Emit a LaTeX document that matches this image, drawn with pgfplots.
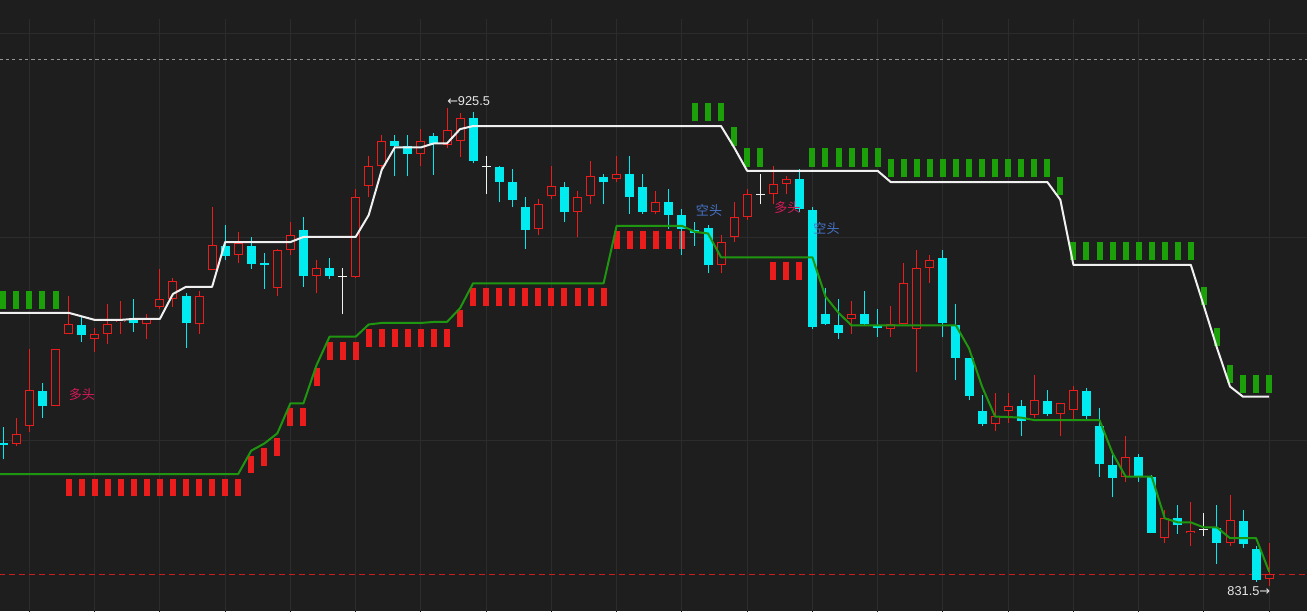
\documentclass[border=0pt]{standalone}
\usepackage{pgfplots}
\pgfplotsset{compat=1.18}
\usepackage{pgfplotstable}
\usepackage{fontspec}
\setmainfont{Liberation Sans}
\newfontfamily\cjk{Noto Sans CJK SC}
\newfontfamily\dejavu{DejaVu Sans}
\definecolor{bg}{RGB}{30,30,30}
\definecolor{gridc}{RGB}{44,44,44}
\definecolor{upred}{RGB}{235,28,28}
\definecolor{dncyan}{RGB}{0,235,240}
\definecolor{mkgreen}{RGB}{28,160,10}
\definecolor{lngreen}{RGB}{30,150,15}
\definecolor{lnwhite}{RGB}{240,240,240}
\definecolor{dashgray}{RGB}{150,150,150}
\definecolor{dashred}{RGB}{200,30,30}
\definecolor{txtblue}{RGB}{70,115,200}
\definecolor{txtpink}{RGB}{215,25,90}
\definecolor{lbl}{RGB}{230,230,230}

% up (red, hollow) candles: index open high low close
\pgfplotstableread{
i o h l c
1 859.4 864.6 859.0 861.3
2 862.9 878.0 861.8 870.0
4 866.9 878.0 866.9 878.0
5 881.0 888.5 881.0 882.9
7 880.0 882.3 877.5 881.0
8 881.0 886.9 879.0 882.9
9 883.3 887.5 881.0 883.6
11 882.9 885.0 880.0 883.9
12 886.3 893.9 885.9 887.9
13 887.9 892.0 886.4 891.4
15 882.9 889.4 881.0 888.5
16 893.6 905.9 893.6 898.5
18 896.5 901.0 894.9 899.0
21 890.0 897.8 888.4 897.5
22 897.5 903.0 896.5 900.4
24 892.4 895.5 889.0 894.0
27 892.3 909.5 892.0 907.9
28 910.1 916.0 907.9 914.0
29 914.0 920.1 913.3 918.9
32 916.4 921.4 914.0 918.9
34 918.1 925.5 917.5 921.1
35 918.9 924.5 915.9 923.4
41 901.6 907.5 900.4 906.5
42 908.1 914.1 907.5 910.1
44 905.0 909.1 900.0 907.9
45 908.1 915.0 906.5 912.0
47 911.4 916.0 911.0 912.4
50 905.0 909.1 904.6 906.9
55 894.5 900.4 893.0 899.1
56 900.0 906.9 899.1 904.0
57 904.0 909.5 903.4 908.5
59 908.5 914.0 906.5 910.5
60 910.5 912.0 908.5 911.4
65 883.9 887.5 881.0 884.9
68 882.0 886.5 880.4 882.9
69 882.9 894.9 882.9 891.0
70 882.0 897.5 873.5 894.0
71 894.0 896.5 891.0 895.5
76 863.3 869.4 861.9 864.9
77 865.8 869.4 863.5 866.8
79 865.1 872.9 864.5 868.0
81 865.4 867.4 860.9 867.4
82 866.0 870.9 863.9 870.0
86 852.9 860.9 851.9 856.8
89 840.9 846.4 839.9 844.8
91 841.9 848.0 839.4 842.4
94 840.0 849.3 839.4 844.4
97 832.8 839.9 831.5 833.8
}\uptab

% down (cyan, filled) candles
\pgfplotstableread{
i o h l c
0 859.7 862.8 856.4 859.3
3 869.8 871.3 864.5 866.9
6 882.8 884.3 879.4 880.8
10 883.9 887.9 881.4 883.1
14 888.5 889.0 878.3 883.1
17 898.3 902.4 895.5 896.4
19 898.3 900.0 893.9 894.8
20 895.0 896.9 889.9 894.5
23 901.5 904.0 890.3 892.5
25 894.0 895.9 891.9 892.5
30 919.0 920.1 912.0 918.0
31 918.0 920.1 912.0 916.5
33 920.0 920.5 912.3 918.3
36 923.5 924.7 914.6 915.1
38 913.9 914.0 906.9 911.0
39 910.9 913.4 905.9 907.4
40 906.0 908.0 897.8 901.5
43 909.9 911.0 903.0 905.1
46 911.9 912.4 906.5 911.0
48 912.5 916.0 904.6 908.0
49 909.9 912.5 904.6 905.1
51 907.0 909.5 901.6 904.5
52 904.4 905.5 896.6 901.6
53 901.5 903.0 898.4 900.9
54 901.9 902.4 893.0 894.5
61 911.5 913.4 905.0 905.5
62 905.4 905.9 882.0 882.5
63 885.0 890.0 882.8 883.0
64 882.8 887.9 880.0 881.3
66 885.0 889.4 882.8 883.0
67 882.7 885.9 880.4 882.2
72 896.0 897.5 880.4 883.1
73 882.7 886.9 871.9 876.4
74 876.3 876.3 868.0 868.9
75 865.8 869.0 862.9 863.4
78 866.8 868.0 860.9 864.0
80 867.8 870.0 864.9 865.4
83 869.8 870.4 863.9 865.0
84 862.9 866.4 852.9 855.5
85 855.3 857.2 848.9 852.8
87 856.8 857.4 851.9 853.1
88 852.9 853.4 842.0 842.0
90 844.9 847.4 841.8 843.4
93 842.9 847.4 835.8 840.0
95 844.3 846.4 838.9 839.8
96 838.8 839.4 832.3 832.7
}\dntab

% doji (white cross) candles
\pgfplotstableread{
i o h l c
26 892.4 894.0 884.9 892.4
37 914.0 916.0 908.5 914.0
58 908.5 912.5 906.5 908.5
92 842.6 845.8 841.3 842.6
}\dojitab

% upper stop line (white)
\pgfplotstableread{
i p
-0.26 885.2
0 885.2
5 885.2
6 884.5
7 883.8
9 883.8
10 884.0
12 884.0
13 888.9
14 890.3
16 890.3
17 899.1
22 899.1
23 900.1
27 900.1
28 904.4
29 913.3
30 917.7
32 917.7
33 918.5
34 918.5
35 921.3
36 921.9
55 921.9
56 917.7
57 913.1
67 913.1
68 910.9
80 910.9
81 907.4
82 894.6
91 894.6
92 886.5
93 878.3
94 870.7
95 868.7
97 868.7
}\whitetab

% lower stop line (green)
\pgfplotstableread{
i p
-0.26 853.5
18 853.5
19 858.1
20 859.5
21 861.5
22 867.4
23 867.4
24 874.9
25 880.5
27 880.5
28 882.9
29 883.2
32 883.2
33 883.4
34 883.4
35 886.1
36 891.0
46 891.0
47 902.3
52 902.3
53 901.1
54 900.8
55 896.1
62 896.1
63 888.4
64 885.2
65 882.7
73 882.7
74 878.2
75 870.7
76 864.8
77 864.7
78 864.6
79 864.1
84 864.1
85 857.6
86 853.0
88 853.0
89 844.8
90 844.0
91 844.0
92 843.0
93 843.0
94 840.9
96 840.9
97 834.3
}\greentab

% green signal bars: index low high
\pgfplotstableread{
i lo hi
0 885.9 889.5
1 885.9 889.5
2 885.9 889.5
3 885.9 889.5
4 885.9 889.5
53 922.8 926.4
54 922.8 926.4
55 922.8 926.4
56 918.0 921.8
57 913.9 917.5
58 913.9 917.5
62 913.9 917.5
63 913.9 917.5
64 913.9 917.5
65 913.9 917.5
66 913.9 917.5
67 913.9 917.5
68 911.8 915.4
69 911.8 915.4
70 911.8 915.4
71 911.8 915.4
72 911.8 915.4
73 911.8 915.4
74 911.8 915.4
75 911.8 915.4
76 911.8 915.4
77 911.8 915.4
78 911.8 915.4
79 911.8 915.4
80 911.8 915.4
81 908.4 911.9
82 895.6 899.1
83 895.6 899.1
84 895.6 899.1
85 895.6 899.1
86 895.6 899.1
87 895.6 899.1
88 895.6 899.1
89 895.6 899.1
90 895.6 899.1
91 895.6 899.1
92 886.7 890.3
93 878.7 882.2
94 871.4 874.9
95 869.4 873.0
96 869.4 873.0
97 869.4 873.0
}\gmarks

% red signal bars: index low high
\pgfplotstableread{
i lo hi
5 849.2 852.5
6 849.2 852.5
7 849.2 852.5
8 849.2 852.5
9 849.2 852.5
10 849.2 852.5
11 849.2 852.5
12 849.2 852.5
13 849.2 852.5
14 849.2 852.5
15 849.2 852.5
16 849.2 852.5
17 849.2 852.5
18 849.2 852.5
19 853.8 857.1
20 855.1 858.6
21 857.1 860.6
22 863.0 866.5
23 863.0 866.5
24 870.9 874.3
25 876.0 879.4
26 876.0 879.4
27 876.0 879.4
28 878.5 882.0
29 878.5 882.0
30 878.5 882.0
31 878.5 882.0
32 878.5 882.0
33 878.5 882.0
34 878.5 882.0
35 882.4 885.7
36 886.6 890.1
37 886.6 890.1
38 886.6 890.1
39 886.6 890.1
40 886.6 890.1
41 886.6 890.1
42 886.6 890.1
43 886.6 890.1
44 886.6 890.1
45 886.6 890.1
46 886.6 890.1
47 897.7 901.3
48 897.7 901.3
49 897.7 901.3
50 897.7 901.3
51 897.7 901.3
52 897.7 901.3
59 891.6 895.2
60 891.6 895.2
61 891.6 895.2
}\rmarks

\pgfplotsset{
  vbar/.style 2 args={draw=none, mark=none, forget plot,
    error bars/.cd, y dir=plus, y explicit, error mark=none,
    error bar style={draw=#1, line width=#2, line cap=butt}},
}

\begin{document}
\begin{tikzpicture}
\begin{axis}[
  scale only axis, width=980.25pt, height=458.25pt,
  xmin=-0.2529, xmax=99.9, ymin=826.58, ymax=946.68,
  axis line style={draw=none}, ticks=none,
  axis background/.style={fill=bg},
  clip=true,
]
% grid
\addplot[gridc, line width=0.75pt, forget plot] coordinates {(-1,940) (101,940)};
\addplot[gridc, line width=0.75pt, forget plot] coordinates {(-1,900) (101,900)};
\addplot[gridc, line width=0.75pt, forget plot] coordinates {(-1,860) (101,860)};
\pgfplotsinvokeforeach{2,7,12,17,22,27,32,37,42,47,52,57,62,67,72,77,82,87,92,97}{
  \draw[gridc, line width=0.75pt] (axis cs:#1,820) -- (axis cs:#1,942.9);
}
% reference dashed lines
\addplot[dashgray, line width=0.75pt, dash pattern=on 2.4pt off 2.4pt, forget plot] coordinates {(-0.3,934.9) (100,934.9)};
\addplot[dashred, line width=0.75pt, dash pattern=on 4.5pt off 3pt, forget plot] coordinates {(-0.3,833.8) (100,833.8)};

% signal bars
\addplot[vbar={mkgreen}{4.5pt}] table[x=i, y=lo, y error expr=\thisrow{hi}-\thisrow{lo}] {\gmarks};
\addplot[vbar={upred}{4.5pt}] table[x=i, y=lo, y error expr=\thisrow{hi}-\thisrow{lo}] {\rmarks};

% up candles (hollow red)
\addplot[vbar={upred}{0.75pt}] table[x=i, y=l, y error expr=\thisrow{h}-\thisrow{l}] {\uptab};
\addplot[vbar={upred}{6.75pt}] table[x=i, y=o, y error expr=\thisrow{c}-\thisrow{o}] {\uptab};
\addplot[vbar={bg}{5.25pt}, error bar style={shorten <=0.75pt, shorten >=0.75pt}] table[x=i, y=o, y error expr=\thisrow{c}-\thisrow{o}] {\uptab};
% down candles (filled cyan)
\addplot[vbar={dncyan}{0.75pt}] table[x=i, y=l, y error expr=\thisrow{h}-\thisrow{l}] {\dntab};
\addplot[vbar={dncyan}{6.75pt}] table[x=i, y=c, y error expr=\thisrow{o}-\thisrow{c}] {\dntab};
% doji crosses
\addplot[vbar={lnwhite}{0.75pt}] table[x=i, y=l, y error expr=\thisrow{h}-\thisrow{l}] {\dojitab};
\addplot[draw=none, mark=none, forget plot, error bars/.cd, x dir=both, x fixed=0.345, error mark=none,
  error bar style={draw=lnwhite, line width=0.75pt, line cap=butt}] table[x=i, y=c] {\dojitab};

% stop lines
\addplot[lnwhite, line width=1.5pt, line join=round, forget plot] table[x=i, y=p] {\whitetab};
\addplot[lngreen, line width=1.5pt, line join=round, forget plot] table[x=i, y=p] {\greentab};

% labels
\node[anchor=west, inner sep=0pt, text=lbl, font=\fontsize{9.6}{10}\selectfont] at (axis cs:34,926.9) {{\dejavu ←}925.5};
\node[anchor=east, inner sep=0pt, text=lbl, font=\fontsize{9.6}{10}\selectfont] at (axis cs:97.1,830.4) {831.5{\dejavu →}};
\node[inner sep=0pt, text=txtpink, font=\cjk\fontsize{9.8}{10}\selectfont] at (axis cs:6.03,869.2) {多头};
\node[inner sep=0pt, text=txtblue, font=\cjk\fontsize{9.8}{10}\selectfont] at (axis cs:54.08,905.3) {空头};
\node[inner sep=0pt, text=txtpink, font=\cjk\fontsize{9.8}{10}\selectfont] at (axis cs:60.09,905.9) {多头};
\node[inner sep=0pt, text=txtblue, font=\cjk\fontsize{9.8}{10}\selectfont] at (axis cs:63.08,901.8) {空头};
\end{axis}
\pgfresetboundingbox
\path[use as bounding box] (current axis.south west) rectangle (current axis.north east);
\end{tikzpicture}
\end{document}
